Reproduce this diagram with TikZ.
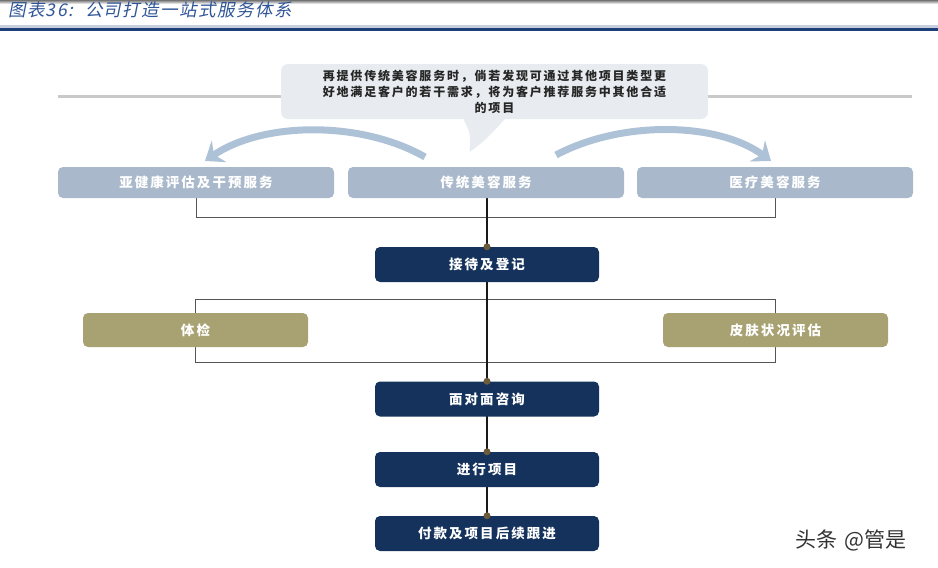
\documentclass[tikz,border=0pt]{standalone}
\usepackage{fontspec}
\usetikzlibrary{arrows.meta,calc,backgrounds}
\newfontfamily\cjk{Noto Sans CJK SC}
\newfontfamily\cjkbox{Noto Sans CJK SC}[LetterSpace=15]
\newfontfamily\cjktitle{Noto Sans CJK SC}[FakeSlant=0.2,LetterSpace=8]
\definecolor{topbox}{HTML}{A9B9CB}
\definecolor{darkbox}{HTML}{14325C}
\definecolor{olivebox}{HTML}{A8A273}
\definecolor{bubblefill}{HTML}{E8ECF0}
\definecolor{arrowblue}{HTML}{ADC2D6}
\definecolor{bracketgray}{HTML}{555555}
\definecolor{dotbrown}{HTML}{6B5B3B}
\definecolor{titleblue}{HTML}{2F5597}
\definecolor{ruleblue}{HTML}{1F3F7A}
\definecolor{lightline}{HTML}{C9C9C9}
\tikzset{
  boxbase/.style={rounded corners=5pt, inner sep=0pt, text=white,
    font=\cjkbox\bfseries\fontsize{13.5}{16}\selectfont},
  lbox/.style={boxbase, fill=topbox, minimum width=276pt, minimum height=31pt},
  dbox/.style={boxbase, fill=darkbox, minimum width=224pt, minimum height=35pt},
  obox/.style={boxbase, fill=olivebox, minimum width=225pt, minimum height=34pt},
  bubble/.style={fill=bubblefill, rounded corners=7pt, minimum width=427pt,
    minimum height=55pt, inner sep=0pt, align=center, text=black!85,
    font=\cjkbox\bfseries\fontsize{12}{16}\selectfont},
  bracket/.style={draw=bracketgray, line width=0.9pt},
  spine/.style={draw=black!90, line width=2.4pt},
  grayline/.style={draw=lightline, line width=3pt},
  bluearrow/.style={draw=arrowblue, line width=7pt,
    -{Stealth[width=26pt,length=17pt,inset=6pt]}},
  dotc/.style={fill=dotbrown}
}
\begin{document}
\begin{tikzpicture}[x=1pt,y=-1pt]
\useasboundingbox (0,0) rectangle (938,568);
% top header
\shade[top color=black!55, bottom color=white] (0,0) rectangle (938,4);
\fill[ruleblue] (0,28) rectangle (938,31);
\fill[ruleblue!25] (0,25) rectangle (938,28);
\node[anchor=west, text=titleblue, font=\cjktitle\fontsize{17.5}{20}\selectfont, inner sep=0pt] (title) at (8,10) {图表36:\hspace{12pt}公司打造一站式服务体系};

% light gray horizontal line
\coordinate (gl1) at (58,96);
\coordinate (gl2) at (912,96);
\draw[grayline] (gl1) -- (gl2);

% callout bubble
\node[bubble] (bub) at (494.5,91.5) {再提供传统美容服务时，倘若发现可通过其他项目类型更\\好地满足客户的若干需求，将为客户推荐服务中其他合适\\的项目};
\fill[bubblefill] ($(bub.south)+(-32,-2)$) .. controls ($(bub.south)+(-24,14)$) .. ($(bub.south)+(-25,33)$)
  .. controls ($(bub.south)+(-8,20)$) .. ($(bub.south)+(12,-2)$) -- cycle;

% top row
\node[lbox] (s1) at (196,182.5) {亚健康评估及干预服务};
\node[lbox] (s2) at (486,182.5) {传统美容服务};
\node[lbox] (s3) at (775,182.5) {医疗美容服务};

% curved arrows
\coordinate (al) at (425,157);
\coordinate (ar) at (556,155);
\draw[bluearrow] (al) .. controls (360,120) and (262,122) .. (205,161);
\draw[bluearrow] (ar) .. controls (622,120) and (718,122) .. (771,161);

% process boxes
\node[dbox] (d1) at (487,264.5) {接待及登记};
\node[dbox] (d2) at (487,399) {面对面咨询};
\node[dbox] (d3) at (487,469.5) {进行项目};
\node[dbox] (d4) at (487,533.5) {付款及项目后续跟进};

\node[obox] (o1) at (195.5,330) {体检};
\node[obox] (o2) at (775.5,330) {皮肤状况评估};

\begin{scope}[on background layer]
  \draw[bracket] (s1.south) -- ++(0,19) -| (s3.south);
  \coordinate (r1) at ($(o1.center)+(0,-31)$);
  \coordinate (r2) at ($(o2.center)+(0,32)$);
  \draw[bracket] (r1) rectangle (r2);
  \draw[spine] (d1.north |- s2.south) -- (d4.north);
\end{scope}

% dots
\foreach \n in {d1,d2,d3,d4} \fill[dotc] (\n.north) circle (3.5pt);

% watermark
\node[anchor=west, text=black!80, font=\cjk\fontsize{21}{23}\selectfont, inner sep=0pt] (wm) at (795,540) {头条\hspace{7pt}@管是};
\end{tikzpicture}
\end{document}
